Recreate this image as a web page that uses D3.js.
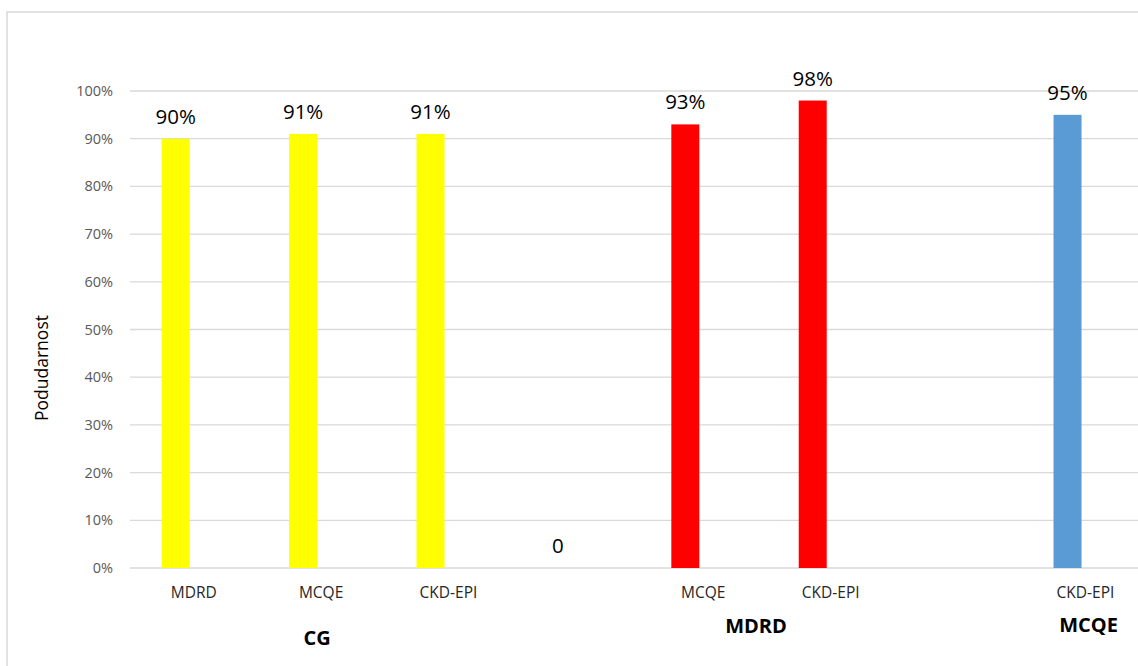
<!DOCTYPE html>
<meta charset="utf-8">
<style>
    body { margin: 0; background: #fff; }
    .grid line { stroke: #d9d9d9; stroke-width: 1.3px; }
    .tick-label { font: 14.5px "Open Sans", sans-serif; fill: #595959; }
    .cat-label { font: 15.5px "Open Sans", sans-serif; fill: #262626; }
    .group-label { font: bold 20px "Open Sans", sans-serif; fill: #000; }
    .value-label { font: 20.5px "Open Sans", sans-serif; fill: #000; }
</style>
<title>Podudarnost</title>
<script src="https://d3js.org/d3.v7.min.js"></script>
<body>
<div id="chart"></div>
<script>
    // data
    var methods = ["MDRD", "MCQE", "CKD-EPI", "", "MCQE", "CKD-EPI", "", "CKD-EPI"];
    var groups  = ["CG", "CG", "CG", "", "MDRD", "MDRD", "", "MCQE"];
    var values  = [0.90, 0.91, 0.91, 0, 0.93, 0.98, null, 0.95];
    var groupColors = {"CG": "#ffff00", "": "#ffff00", "MDRD": "#ff0000", "MCQE": "#5b9bd5"};
    var yTicks = [0, 0.1, 0.2, 0.3, 0.4, 0.5, 0.6, 0.7, 0.8, 0.9, 1];

    var canvasWidth = 1138, canvasHeight = 666;

    var svg = d3.select("#chart").append("svg")
        .attr("width", canvasWidth)
        .attr("height", canvasHeight);

    // chart area frame (runs off the right / bottom edge like the original)
    svg.append("rect")
        .attr("x", 7).attr("y", 12)
        .attr("width", 1300).attr("height", 800)
        .attr("fill", "none")
        .attr("stroke", "#d9d9d9")
        .attr("stroke-width", 1.5);

    var slots = d3.range(methods.length);
    var x = d3.scaleBand().domain(slots).range([130, 130 + 8 * 127.4]).padding(0);
    var y = d3.scaleLinear().domain([0, 1]).range([568, 91]);
    var bw = x.bandwidth();
    var barOffset = bw * 0.249, barWidth = 28;

    // gridlines
    svg.append("g").attr("class", "grid")
        .selectAll("line")
        .data(yTicks)
        .enter().append("line")
        .attr("x1", 130).attr("x2", canvasWidth)
        .attr("y1", d => y(d)).attr("y2", d => y(d));

    // y tick labels
    svg.append("g")
        .selectAll("text")
        .data(yTicks)
        .enter().append("text")
        .attr("class", "tick-label")
        .attr("x", 113)
        .attr("y", d => y(d))
        .attr("dy", "0.35em")
        .attr("text-anchor", "end")
        .text(d3.format(".0%"));

    // y axis title
    svg.append("text")
        .attr("transform", "translate(48,368) rotate(-90)")
        .attr("text-anchor", "middle")
        .style("font", "17.5px 'Open Sans', sans-serif")
        .attr("fill", "#000")
        .text("Podudarnost");

    var data = slots.map(i => ({i: i, method: methods[i], group: groups[i], value: values[i]}));

    // bars
    svg.append("g")
        .selectAll("rect")
        .data(data.filter(d => d.value))
        .enter().append("rect")
        .attr("x", d => x(d.i) + barOffset)
        .attr("y", d => y(d.value))
        .attr("width", barWidth)
        .attr("height", d => y(0) - y(d.value))
        .attr("fill", d => groupColors[d.group]);

    // value labels
    svg.append("g")
        .selectAll("text")
        .data(data.filter(d => d.value !== null))
        .enter().append("text")
        .attr("class", "value-label")
        .attr("x", d => x(d.i) + barOffset + barWidth / 2)
        .attr("y", d => y(d.value) - 15)
        .attr("text-anchor", "middle")
        .text(d => d.value === 0 ? "0" : d3.format(".0%")(d.value));

    // category labels
    svg.append("g")
        .selectAll("text")
        .data(data.filter(d => d.method))
        .enter().append("text")
        .attr("class", "cat-label")
        .attr("x", d => x(d.i) + bw / 2)
        .attr("y", 598)
        .attr("text-anchor", "middle")
        .text(d => d.method);

    // group labels
    var groupNames = ["CG", "MDRD", "MCQE"];
    var groupBase = {"CG": 645, "MDRD": 633, "MCQE": 632};
    var groupShift = {"CG": -4, "MDRD": -11, "MCQE": 3};
    svg.append("g")
        .selectAll("text")
        .data(groupNames)
        .enter().append("text")
        .attr("class", "group-label")
        .attr("x", g => d3.mean(data.filter(d => d.group === g), d => x(d.i) + bw / 2) + groupShift[g])
        .attr("y", g => groupBase[g])
        .attr("text-anchor", "middle")
        .text(g => g);
</script>
</body>
